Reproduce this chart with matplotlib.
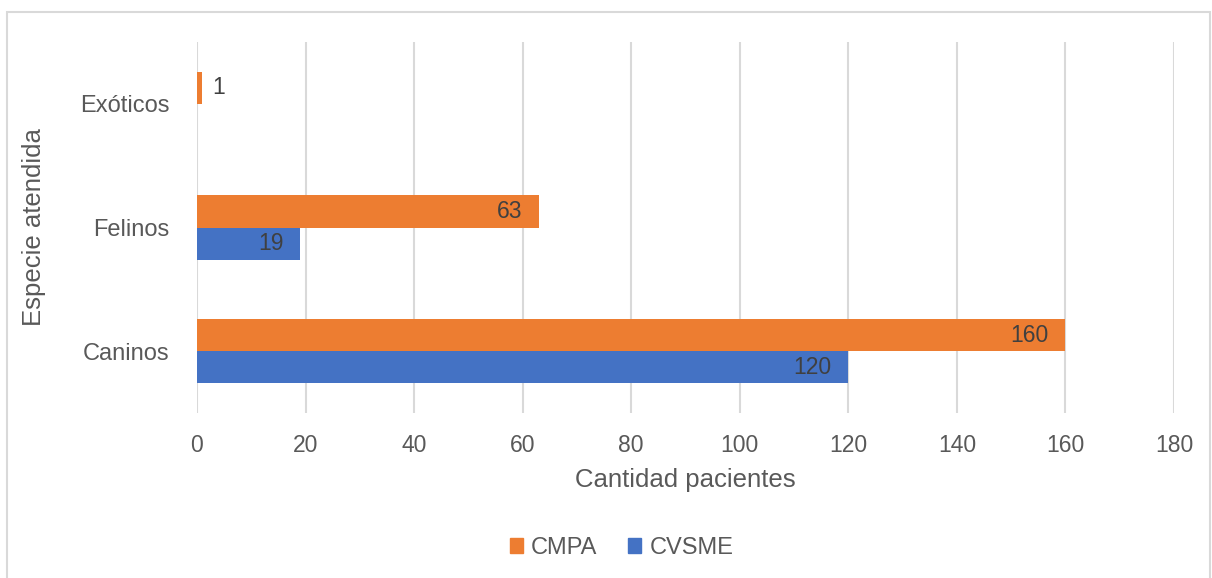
import matplotlib.pyplot as plt
from matplotlib.patches import Patch, Rectangle
import numpy as np

# especies atendidas, de abajo hacia arriba
especies = ["Caninos", "Felinos", "Exóticos"]
cmpa = [160, 63, 1]
cvsme = [120, 19, None]  # sin exóticos en CVSME
xticks = [0, 20, 40, 60, 80, 100, 120, 140, 160, 180]

naranja = "#ED7D31"
azul = "#4472C4"
gris_txt = "#595959"
gris_grid = "#D9D9D9"

plt.rcParams["font.family"] = ["Liberation Sans", "DejaVu Sans"]

fig = plt.figure(figsize=(12.12, 5.78), dpi=100, facecolor="white")
ax = fig.add_axes([0.1625, 0.2855, 0.8061, 0.6418])

y = np.arange(len(especies))
h = 0.26
v_cvsme = [v if v is not None else 0 for v in cvsme]
b1 = ax.barh(y + h / 2, cmpa, height=h, color=naranja, zorder=3)
b2 = ax.barh(y - h / 2, v_cvsme, height=h, color=azul, zorder=3)

# etiquetas de valor: dentro del extremo, o fuera si la barra es muy corta
for bars, vals in ((b1, cmpa), (b2, cvsme)):
    for bar, v in zip(bars, vals):
        if v is None:
            continue
        yc = bar.get_y() + bar.get_height() / 2
        if v < 10:
            ax.annotate(str(v), (v, yc), xytext=(7, 0), textcoords="offset points",
                        ha="left", va="center", fontsize=16.5, color="#404040", zorder=4)
        else:
            ax.annotate(str(v), (v, yc), xytext=(-12, 0), textcoords="offset points",
                        ha="right", va="center", fontsize=16.5, color="#404040", zorder=4)

ax.set_xlim(0, 180)
ax.set_ylim(-0.5, 2.5)
ax.set_xticks(xticks)
ax.set_yticks(y)
ax.set_yticklabels(especies)
ax.grid(axis="x", color=gris_grid, linewidth=1.5, zorder=0)
ax.tick_params(length=0, labelsize=16.5, colors=gris_txt)
ax.tick_params(axis="x", pad=15)
ax.tick_params(axis="y", pad=20, labelsize=17)
for s in ax.spines.values():
    s.set_visible(False)

ax.set_xlabel("Cantidad pacientes", fontsize=18.5, color=gris_txt, labelpad=8)
ax.set_ylabel("Especie atendida", fontsize=18.5, color=gris_txt, labelpad=24)

handles = [Patch(color=naranja, label="CMPA"), Patch(color=azul, label="CVSME")]
fig.legend(handles=handles, loc="center", bbox_to_anchor=(0.513, 0.052), ncol=2,
           frameon=False, fontsize=17, labelcolor=gris_txt, handlelength=0.55,
           handleheight=0.55, handletextpad=0.35, columnspacing=1.3)

# marco del área del gráfico
fig.patches.append(Rectangle((7 / 1212, -0.05), 1203 / 1212, 1.05 - 12 / 578,
                             transform=fig.transFigure, fill=False,
                             edgecolor=gris_grid, linewidth=1.5))

fig.savefig("out.png", dpi=100, facecolor="white")
